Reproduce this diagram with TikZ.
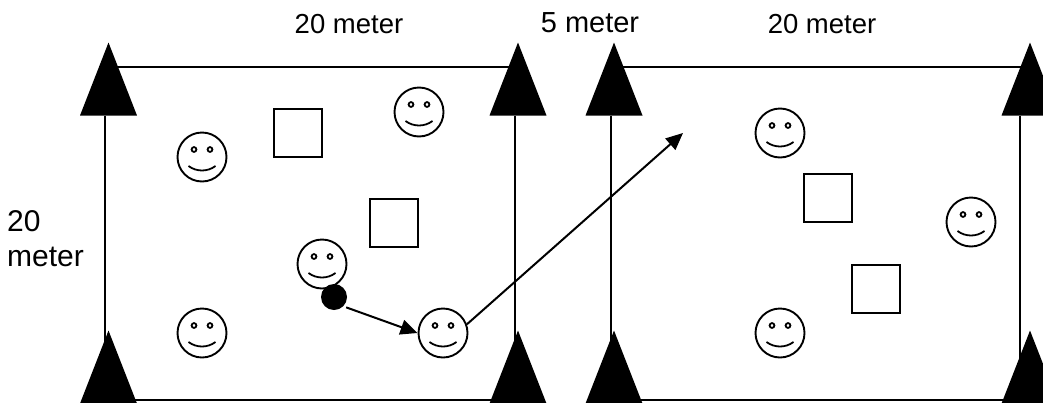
\documentclass[tikz,border=0pt]{standalone}
\usepackage{fontspec}
\setmainfont{Liberation Sans}
\usetikzlibrary{shapes.geometric,arrows.meta}

\begin{document}
\begin{tikzpicture}[
	x=1pt, y=-1pt,
	pole/.style={isosceles triangle, isosceles triangle stretches, shape border rotate=90,
	fill=black, draw=none, inner sep=0pt, minimum width=57pt, minimum height=73pt, anchor=apex},
	wire/.style={line width=2.4pt},
	person/.style={circle, draw=black, line width=1.9pt, fill=white, inner sep=0pt, minimum size=49pt,
	path picture={
		\draw[line width=1.8pt] ([shift={(-8,-7.5)}]path picture bounding box.center) circle (2.4pt);
		\draw[line width=1.8pt] ([shift={(8,-7.5)}]path picture bounding box.center) circle (2.4pt);
		\draw[line width=1.8pt] ([shift={(-13.5,9)}]path picture bounding box.center)
			.. controls +(8,6) and +(-8,6) .. +(27,0);
	}},
	obstacle/.style={rectangle, draw=black, line width=2.1pt, fill=white, inner sep=0pt, minimum size=48pt},
	label/.style={font=\fontsize{27.5}{35}\selectfont, inner sep=0pt},
	arrow/.style={line width=2pt, -{Triangle[length=17pt,width=15pt]}}
	]
	\useasboundingbox (0,0) rectangle (1043,402);
	\fill[white] (0,0) rectangle (1043,402);
	
	\node[pole] (t1) at (108.5,42) {};
	\node[pole] (t2) at (518,42) {};
	\node[pole] (t3) at (614,42) {};
	\node[pole] (t4) at (1030,42) {};
	\node[pole] (b1) at (108.5,330) {};
	\node[pole] (b2) at (518,330) {};
	\node[pole] (b3) at (614,330) {};
	\node[pole] (b4) at (1030,330) {};
	
	\draw[wire] ([xshift=-3.5pt]t1.lower side) -- ([xshift=-3.5pt,yshift=-30pt]b1.apex);
	\draw[wire] ([xshift=-3pt]t2.lower side) -- ([xshift=-3pt,yshift=-30pt]b2.apex);
	\draw[wire] ([xshift=-3pt]t3.lower side) -- ([xshift=-3pt,yshift=-30pt]b3.apex);
	\draw[wire] ([xshift=-10pt]t4.lower side) -- ([xshift=-10pt,yshift=-30pt]b4.apex);
	\draw[wire] ([yshift=-25pt]t1.apex) -- ([yshift=-25pt]t2.apex);
	\draw[wire] ([yshift=-25pt]t3.apex) -- ([yshift=-25pt]t4.apex);
	\draw[wire] ([yshift=-70pt]b1.apex) -- ([yshift=-70pt]b2.apex);
	\draw[wire] ([yshift=-70pt]b3.apex) -- ([yshift=-70pt]b4.apex);
	
	\node[person] (p1) at (202,157) {};
	\node[person] (p2) at (419,112) {};
	\node[person] (p3) at (322,264) {};
	\node[person] (p4) at (202,333) {};
	\node[person] (p5) at (443,333) {};
	\node[person] (p6) at (780,133) {};
	\node[person] (p7) at (971,222) {};
	\node[person] (p8) at (780,333) {};
	
	\node[obstacle] (o1) at (298,133) {};
	\node[obstacle] (o2) at (394,223) {};
	\node[obstacle] (o3) at (828,198) {};
	\node[obstacle] (o4) at (876,289) {};
	
	\node[circle, fill=black, inner sep=0pt, minimum size=26pt] (dot) at (334,297) {};
	\coordinate (end) at (683,133);
	
	\draw[arrow, shorten <=3pt] (dot.-45) -- (p5.west);
	\draw[arrow] (p5.20) -- (end);
	
	\node[label] (w1) at (349,24) {20 meter};
	\node[label, font=\fontsize{29}{35}\selectfont] (w2) at (590,23) {5 meter};
	\node[label] (w3) at (822,24) {20 meter};
	\node[label, font=\fontsize{30}{35}\selectfont, align=left, anchor=west] (h1) at (7,239) {20\\meter};
\end{tikzpicture}
\end{document}
